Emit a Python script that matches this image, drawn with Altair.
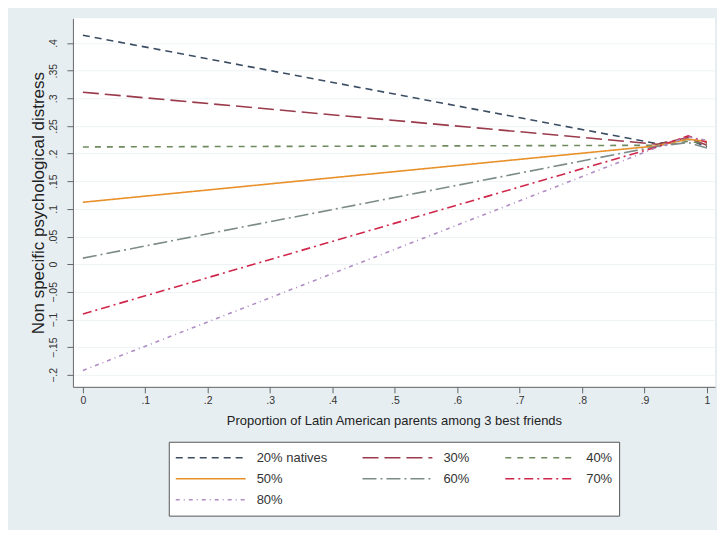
import altair as alt
import pandas as pd

# ---- data ----
series = ["20% natives", "30%", "40%", "50%", "60%", "70%", "80%"]
x_points = [0.0, 0.92, 0.97, 1.0]
y_20 = [0.414, 0.218, 0.226, 0.212]
y_30 = [0.311, 0.217, 0.229, 0.215]
y_40 = [0.212, 0.215, 0.222, 0.218]
y_50 = [0.112, 0.214, 0.226, 0.222]
y_60 = [0.011, 0.213, 0.220, 0.210]
y_70 = [-0.090, 0.212, 0.232, 0.220]
y_80 = [-0.192, 0.211, 0.230, 0.224]
series_values = [y_20, y_30, y_40, y_50, y_60, y_70, y_80]

x_ticks = [0, 0.1, 0.2, 0.3, 0.4, 0.5, 0.6, 0.7, 0.8, 0.9, 1]
y_ticks = [-0.2, -0.15, -0.1, -0.05, 0, 0.05, 0.1, 0.15, 0.2, 0.25, 0.3, 0.35, 0.4]

# ---- styles ----
colors = ["#3b4d63", "#9a3b4b", "#6f8a5e", "#e8902a", "#7d8c88", "#d0264a", "#b08cc4"]
dashes = [[7, 5], [16, 6], [6, 6], [1, 0], [14, 4, 2, 4], [9, 4, 2, 4], [4, 4, 1, 4]]

rows = []
for s, ys in zip(series, series_values):
    for x, y in zip(x_points, ys):
        rows.append({"series": s, "x": x, "y": y})
df = pd.DataFrame(rows)

FONT = "Liberation Sans"
label_expr = "datum.value == 0 ? '0' : replace(format(datum.value, '.2~f'), '0.', '.')"

legend = alt.Legend(
    title=None,
    orient="none",
    direction="horizontal",
    legendX=96,
    legendY=424,
    columns=3,
    symbolType="stroke",
    symbolSize=4900,
    symbolStrokeWidth=1.6,
    clipHeight=20,
    labelFontSize=13,
    labelFont=FONT,
    labelColor="#333333",
    labelOffset=10,
    columnPadding=34,
    rowPadding=1,
    padding=6,
    strokeColor="#555555",
    fillColor="white",
    cornerRadius=0,
)

chart = (
    alt.Chart(df)
    .mark_line(strokeWidth=1.6)
    .encode(
        x=alt.X(
            "x:Q",
            scale=alt.Scale(domain=[-0.016, 1.013], nice=False, zero=False),
            axis=alt.Axis(
                title="Proportion of Latin American parents among 3 best friends",
                values=x_ticks,
                labelExpr=label_expr,
                grid=False,
                tickSize=6,
                labelPadding=3,
                titlePadding=8,
                labelFlush=False,
            ),
        ),
        y=alt.Y(
            "y:Q",
            scale=alt.Scale(domain=[-0.2217, 0.4445], nice=False, zero=False),
            axis=alt.Axis(
                title="Non specific psychological distress",
                values=y_ticks,
                labelExpr=label_expr,
                grid=True,
                gridColor="#eef3f5",
                tickSize=6,
                labelAngle=-90,
                labelPadding=8,
                titlePadding=1,
                titleFontSize=17,
            ),
        ),
        color=alt.Color(
            "series:N",
            scale=alt.Scale(domain=series, range=colors),
            legend=legend,
        ),
        strokeDash=alt.StrokeDash(
            "series:N",
            scale=alt.Scale(domain=series, range=dashes),
            legend=legend,
        ),
        detail="series:N",
    )
    .properties(width=643, height=369, padding={"left": 21, "top": 10, "right": 2, "bottom": 13})
    .configure(background="#e7eef2")
    .configure_view(fill="white", strokeWidth=0)
    .configure_axis(
        labelFont=FONT,
        titleFont=FONT,
        labelFontSize=10.5,
        titleFontSize=13,
        titleFontWeight="normal",
        labelColor="#333333",
        titleColor="#222222",
        domainColor="#666666",
        tickColor="#666666",
        domainWidth=1,
    )
)

chart.save("out.html", embed_options={"renderer": "svg", "actions": False})
